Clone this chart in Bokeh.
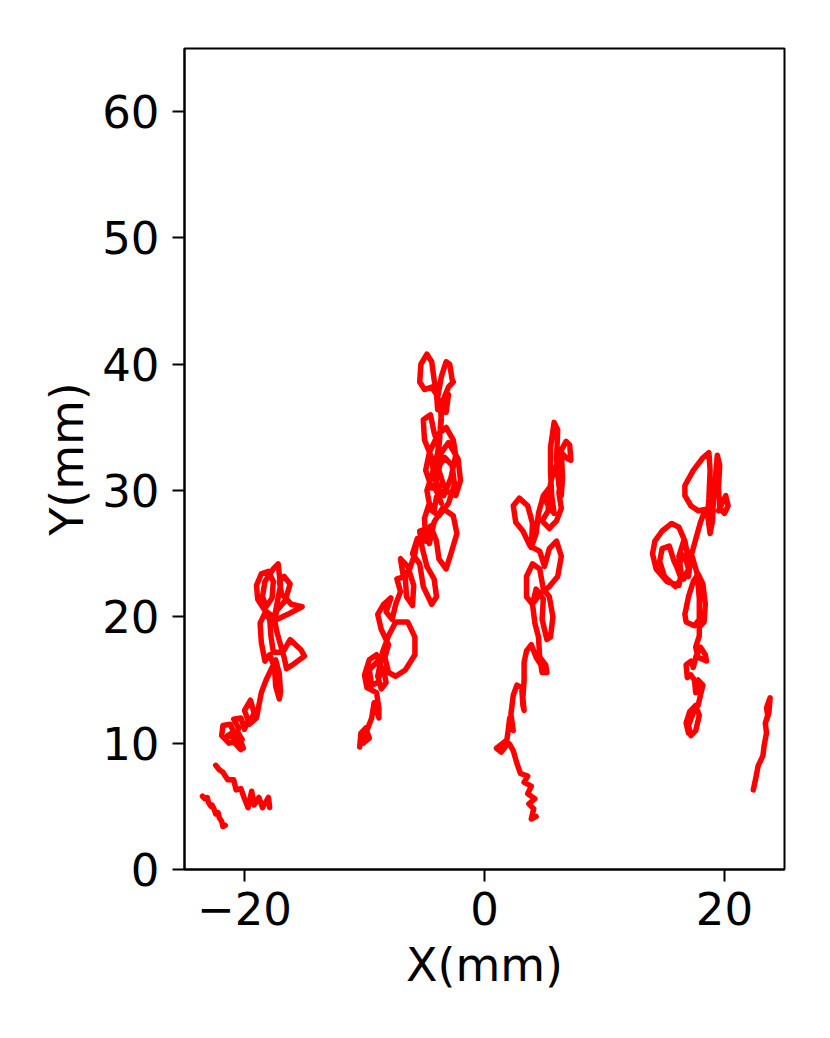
from bokeh.plotting import figure
from bokeh.models import Range1d, FixedTicker
from bokeh.embed import file_html
from bokeh.resources import INLINE

# ---- data (mm) ----
a_x = [-23.5, -23.3, -23.1, -23.0, -22.8, -22.7, -22.5, -22.4, -22.2, -22.1, -21.9, -21.8, -21.6]
a_y = [5.8, 5.6, 5.7, 5.3, 5.0, 5.1, 4.7, 4.4, 4.5, 4.1, 3.8, 3.4, 3.5]

b_x = [-22.4, -22.1, -21.8, -21.6, -21.4, -20.9, -20.7, -20.3, -20.0, -19.7, -19.4, -19.2, -18.8, -18.5, -18.0, -17.9]
b_y = [8.25, 7.9, 7.7, 7.4, 7.1, 7.1, 6.3, 6.4, 5.6, 4.9, 6.2, 5.1, 5.7, 4.9, 5.7, 4.9]

c1_x = [-20.1,-20.6,-20.2,-20.8,-20.3,-20.6,-21.3,-21.9,-21.8,-21.2,-20.9,-21.4,-20.7,-20.5,-20.9,-20.3,-20.0,-19.7,-20.0,-19.5,-19.2,-19.6,-19.0,-18.8,-18.6,-18.2,-17.8,-17.4,-17.1,-17.0,-17.1,-17.4,-17.5,-17.9,-18.3,-18.6,-18.7,-18.3,-17.9,-17.8,-17.6,-16.8,-16.2,-15.3,-15.0,-16.0,-16.5,-16.7,-17.0,-17.3,-17.5,-17.3,-16.6,-16.2,-16.7,-17.1,-16.9,-16.1,-15.2,-15.6,-16.4,-17.3,-18.3,-18.9,-19.0,-18.6,-18.0,-17.6,-17.7,-18.2,-18.5,-18.3,-17.6,-17.2,-17.0,-17.3,-17.6]
c1_y = [9.6,10.9,10.3,10.0,9.5,10.2,10.0,10.6,11.4,11.5,10.9,10.6,10.4,11.2,11.9,12.0,11.1,11.8,12.6,13.4,12.4,11.5,12.0,13.0,14.0,15.0,15.8,16.6,15.5,14.0,13.5,14.5,16.0,17.0,16.5,18.0,19.5,20.3,19.8,18.5,17.2,17.2,18.2,17.4,16.9,16.2,15.9,16.8,17.8,18.8,19.8,20.5,21.3,22.6,23.2,22.8,21.8,21.0,20.8,20.6,20.2,19.8,20.5,21.4,22.5,23.4,23.6,22.8,21.5,20.8,21.6,22.8,23.8,24.2,22.5,21.0,19.5]

c2_x = [-10.4,-10.3,-9.9,-9.6,-10.1,-9.8,-9.4,-9.2,-8.8,-8.8,-9.0,-9.8,-10.0,-9.6,-9.0,-8.6,-8.9,-9.4,-9.6,-9.0,-8.4,-8.2,-8.6,-8.9,-8.5,-8.0,-7.4,-6.4,-5.8,-5.8,-6.6,-7.4,-8.0,-8.3,-8.0,-8.6,-8.9,-8.4,-7.8,-8.2,-7.7,-7.4,-7.0,-7.3,-6.6,-6.5,-6.0,-5.9,-6.4,-7.0,-6.8,-6.3,-5.8,-5.6,-6.0,-5.4,-5.1,-4.4,-4.0,-4.2,-4.8,-5.2,-5.4,-4.8,-4.6,-4.2,-3.5,-2.6,-2.3,-2.8,-3.2,-3.8,-4.0,-4.5,-4.9,-5.0,-4.6,-4.2,-4.0,-3.3,-2.4,-2.0,-2.2,-3.0,-3.6,-3.8,-3.4,-4.4,-4.9,-4.6,-3.9,-3.2,-2.6,-2.4,-2.8,-3.4,-4.2,-4.4,-5.0,-5.1,-4.5,-4.2,-3.8,-3.6,-3.7,-3.0,-3.2,-3.9,-4.0,-4.4,-5.0,-5.4,-5.3,-4.8,-4.4,-4.2,-3.9,-3.6,-3.2,-2.9,-2.7,-2.6,-3.0,-3.3,-3.6,-3.7,-3.9,-4.3,-4.8,-4.5,-3.8,-3.0,-2.5,-2.7,-3.3,-3.9,-4.1,-3.6]
c2_y = [9.7,10.8,11.2,10.4,10.0,11.0,12.0,13.2,12.0,12.8,14.0,14.4,15.4,16.6,17.0,16.0,14.8,14.6,15.8,16.4,15.8,14.8,14.3,15.3,17.2,18.5,19.6,19.6,18.4,17.0,15.8,15.3,15.6,16.8,17.8,19.0,20.2,21.0,21.5,20.4,19.8,21.0,22.0,23.0,23.2,21.6,20.9,22.5,24.0,24.6,23.4,23.6,25.0,26.2,25.0,24.2,22.4,21.0,21.6,23.0,24.0,25.5,26.8,27.0,25.8,27.5,28.6,28.0,26.6,25.0,23.8,24.6,26.0,27.2,26.0,27.8,29.0,28.4,29.5,30.0,29.6,30.8,32.5,33.8,33.0,31.6,30.4,30.2,31.6,33.0,34.4,35.0,34.0,32.8,31.0,29.6,31.0,32.6,34.0,35.6,36.0,34.6,33.4,35.6,37.0,37.6,36.2,36.4,37.6,38.2,38.0,38.6,40.0,40.8,40.2,38.8,37.4,39.0,40.2,40.0,38.8,38.6,38.2,37.5,36.0,34.8,33.0,31.5,30.0,28.5,28.0,29.0,30.5,32.0,32.6,31.8,30.2,29.0]

c3_x = [4.3,3.9,4.1,3.7,4.2,3.6,3.9,3.3,3.6,3.0,2.7,2.4,2.1,1.8,1.0,1.4,1.8,2.0,2.1,2.4,2.2,2.4,2.7,3.1,3.2,3.3,3.2,3.3,3.3,3.5,3.9,4.3,4.7,4.8,5.2,5.1,4.6,4.5,4.2,4.0,4.3,4.9,4.8,5.2,5.5,5.7,5.4,4.9,4.6,4.0,3.5,3.5,4.0,4.6,5.4,6.1,6.4,6.0,5.4,5.0,4.6,3.8,3.2,2.6,2.4,2.9,3.6,4.0,3.9,4.3,4.5,4.9,5.4,5.3,4.8,5.4,6.0,6.4,6.2,6.4,6.0,5.6,5.2,5.8,5.6,5.5,5.5,5.8,6.1,6.0,6.2,6.4,6.5,6.4,6.8,7.1,7.2,6.8,6.4]
c3_y = [4.2,4.0,4.8,5.2,5.6,6.0,6.6,6.9,7.4,7.6,8.4,9.4,9.9,10.2,9.6,9.3,9.8,11.2,12.0,11.0,12.3,13.8,14.6,14.4,13.0,12.6,13.6,15.0,16.4,17.3,17.8,16.8,16.2,15.6,15.6,16.2,16.8,18.4,19.5,21.0,22.2,21.4,19.8,18.2,18.4,20.0,21.6,22.2,23.8,24.2,23.2,21.6,21.0,21.8,22.4,23.2,24.8,26.0,25.4,24.0,25.2,25.6,26.8,27.5,28.8,29.4,28.8,27.4,25.5,26.6,28.2,29.6,30.2,28.4,27.6,27.0,27.6,28.6,29.8,31.4,32.0,31.0,29.0,28.2,29.6,31.5,33.4,35.4,34.8,32.5,30.4,29.6,31.0,33.2,33.9,33.6,32.4,32.6,33.0]

c4_x = [17.0,16.8,17.1,17.6,17.9,17.6,17.2,17.0,17.4,17.8,18.0,18.2,17.8,17.6,17.5,17.2,16.9,16.8,17.2,17.4,17.6,18.0,18.4,18.5,17.8,17.6,17.9,17.9,18.3,18.4,18.2,17.8,17.4,17.0,16.7,16.8,17.5,17.9,17.9,17.7,17.3,16.9,16.7,16.2,15.6,14.8,14.2,14.0,14.3,15.2,16.2,16.4,16.2,16.6,16.9,17.1,17.0,16.3,15.8,15.4,14.8,14.6,15.0,15.9,16.4,16.0,16.4,16.8,17.0,16.6,16.1,16.5,17.1,17.5,18.0,18.4,17.8,17.2,16.7,16.7,17.4,18.2,18.7,18.8,18.7,18.6,18.8,19.0,19.1,19.3,19.4,19.6,19.5,19.6,20.0,20.3,20.1,19.8,19.5]
c4_y = [10.8,11.6,12.5,13.0,12.2,11.0,10.6,11.4,12.4,13.0,13.8,14.6,15.0,14.0,15.0,15.4,15.2,16.2,16.5,16.0,16.8,17.6,17.0,16.5,16.8,17.6,18.5,19.2,19.6,21.0,22.6,23.4,22.8,21.6,20.2,19.6,19.3,19.8,21.5,23.5,24.8,25.0,26.0,27.1,27.4,26.8,26.0,25.0,23.8,22.8,22.5,23.4,24.8,26.0,25.2,24.0,23.2,23.4,24.4,25.6,25.4,24.4,23.2,22.4,23.0,24.0,25.0,24.5,23.8,23.0,23.8,24.8,24.4,25.8,27.5,28.5,28.4,28.8,29.6,30.4,31.6,32.6,33.0,31.6,29.4,28.0,26.6,27.6,29.8,31.6,32.8,32.0,30.2,28.6,28.2,28.8,29.6,29.0,28.4]

e_x = [22.4, 22.6, 22.8, 23.0, 23.2, 23.3, 23.5, 23.4, 23.6, 23.5, 23.8, 23.7, 23.5]
e_y = [6.3, 7.2, 8.2, 8.6, 9.0, 9.8, 10.8, 11.6, 12.2, 12.8, 13.6, 12.4, 11.8]

x_ticks = [-20, 0, 20]
x_tick_labels = {-20: "\u221220", 0: "0", 20: "20"}
y_ticks = [0, 10, 20, 30, 40, 50, 60]

FONT = "DejaVu Sans"
TICK_FS = "45px"
LABEL_FS = "46px"

p = figure(width=814, height=1030, x_range=Range1d(-25, 25), y_range=Range1d(0, 65),
           output_backend="svg", toolbar_location=None,
           min_border_left=184, min_border_right=30, min_border_top=48, min_border_bottom=161)

p.grid.visible = False
p.outline_line_color = "black"
p.outline_line_width = 2
p.background_fill_color = "white"
p.border_fill_color = "white"

for ax in (p.xaxis[0], p.yaxis[0]):
    ax.axis_line_width = 2
    ax.axis_line_color = "black"
    ax.major_tick_line_width = 2
    ax.major_tick_out = 12
    ax.major_tick_in = 0
    ax.minor_tick_line_color = None
    ax.major_label_text_font = FONT
    ax.major_label_text_font_size = TICK_FS
    ax.major_label_text_color = "black"
    ax.axis_label_text_font = FONT
    ax.axis_label_text_font_size = LABEL_FS
    ax.axis_label_text_font_style = "normal"
    ax.axis_label_text_color = "black"

p.xaxis.ticker = FixedTicker(ticks=x_ticks)
p.xaxis.major_label_overrides = x_tick_labels
p.yaxis.ticker = FixedTicker(ticks=y_ticks)
p.xaxis.axis_label = "X(mm)"
p.yaxis.axis_label = "Y(mm)"
p.xaxis.major_label_standoff = 10
p.yaxis.major_label_standoff = 13
p.xaxis.axis_label_standoff = 10
p.yaxis.axis_label_standoff = 5

for xs, ys in [(a_x, a_y), (b_x, b_y), (c1_x, c1_y), (c2_x, c2_y), (c3_x, c3_y), (c4_x, c4_y), (e_x, e_y)]:
    n = min(len(xs), len(ys))
    p.line(xs[:n], ys[:n], line_color="#ff0000", line_width=5.5, line_join="round", line_cap="round")

open("out.html", "w").write(file_html(p, INLINE))
